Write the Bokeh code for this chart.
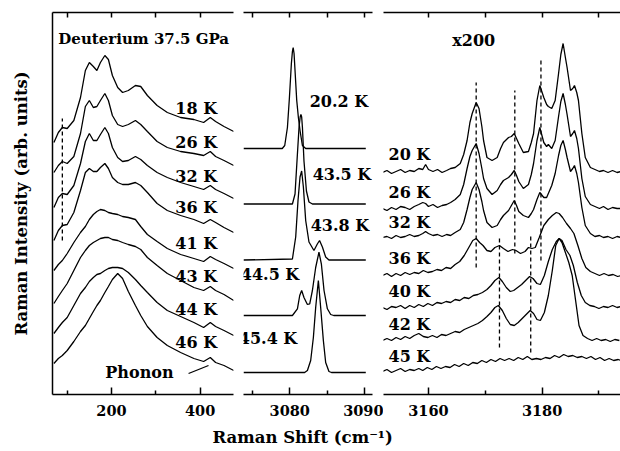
from bokeh.plotting import figure
from bokeh.models import Range1d, LinearAxis, FixedTicker, Label
from bokeh.layouts import row, column
from bokeh.embed import file_html
from bokeh.resources import INLINE

FONT = "DejaVu Serif"

# ---------------- Panel 1 : low-frequency spectra (cm-1, arb. units incl. offset) --------
p1_x = [70, 80, 89, 100, 115, 130, 141, 150, 159, 167, 175, 185, 193, 202, 214, 225, 238,
        254, 266, 281, 303, 326, 356, 386, 408, 423, 435, 454, 476]
p1_18K = [252, 262, 267, 266, 274, 297, 324, 332, 328, 324, 332, 339, 335, 319, 307, 302, 304,
          309, 308, 299, 289, 282, 277, 275, 272, 277, 273, 268, 263]
p1_26K = [222, 229, 233, 231, 238, 261, 288, 294, 287, 288, 294, 301, 294, 279, 270, 268, 270,
          274, 270, 263, 253, 247, 243, 241, 239, 243, 238, 234, 229]
p1_32K = [187, 197, 201, 200, 209, 231, 253, 261, 254, 254, 260, 267, 261, 247, 237, 233, 234,
          238, 235, 229, 222, 217, 212, 208, 205, 209, 205, 201, 196]
p1_36K = [154, 164, 169, 170, 182, 204, 222, 226, 223, 223, 227, 231, 226, 217, 212, 210, 210,
          212, 209, 202, 191, 184, 179, 175, 171, 175, 172, 167, 162]
p1_41K = [124, 130, 134, 141, 152, 162, 168, 175, 180, 183, 185, 184, 182, 181, 180, 178, 177,
          175, 168, 160, 153, 146, 140, 136, 133, 138, 135, 131, 126]
p1_43K = [91, 98, 104, 111, 124, 137, 144, 149, 152, 154, 156, 157, 157, 155, 154, 152, 150,
          148, 145, 137, 129, 121, 114, 107, 104, 108, 104, 100, 94]
p1_44K = [61, 67, 72, 77, 89, 101, 107, 113, 117, 120, 121, 124, 126, 127, 127, 126, 122,
          115, 109, 102, 92, 84, 78, 72, 67, 72, 68, 64, 59]
p1_46K = [31, 36, 39, 44, 53, 63, 69, 76, 83, 89, 94, 102, 108, 115, 121, 116, 103,
          89, 79, 68, 57, 49, 42, 36, 33, 37, 32, 29, 24]
p1_series = [p1_18K, p1_26K, p1_32K, p1_36K, p1_41K, p1_43K, p1_44K, p1_46K]
p1_labels = ["18 K", "26 K", "32 K", "36 K", "41 K", "43 K", "44 K", "46 K"]
p1_label_y = [286, 252, 218, 187, 151, 118, 85, 52]
p1_dash_x = [89, 89]
p1_dash_y = [154, 276]
p1_phonon_x = [374, 419]
p1_phonon_y = [21, 29]

# ---------------- Panel 2 : vibron (cm-1, intensity above baseline) ----------------
p2_202_x = [3073.8, 3079.0, 3079.33, 3079.69, 3079.96, 3080.22, 3080.36, 3080.46, 3080.58, 3080.71,
            3080.94, 3081.16, 3081.38, 3081.7, 3082.14, 3090.2]
p2_202_y = [0, 0, 3, 21, 51, 85, 97, 101, 95, 78, 48, 31, 18, 3, 0, 0]
p2_435_x = [3073.8, 3080.36, 3080.71, 3081.03, 3081.25, 3081.4, 3081.5, 3081.6, 3081.7, 3081.91,
            3082.24, 3082.58, 3083.04, 3090.2]
p2_435_y = [0, 0, 10, 50, 77, 87, 89.5, 87, 77, 43, 13, 2, 0, 0]
p2_438_x = [3073.8, 3080.36, 3080.8, 3081.11, 3081.38, 3081.6, 3081.83, 3082.14, 3082.58, 3083.25,
            3083.7, 3084.0, 3084.38, 3084.82, 3085.26, 3090.2]
p2_438_y = [0, 1, 23, 59.5, 83, 89, 73, 39.5, 18, 9.5, 16, 19.5, 13, 3, 0, 0]
p2_445_x = [3073.8, 3080.36, 3081.03, 3081.34, 3081.6, 3081.91, 3082.37, 3082.68, 3083.04, 3083.48,
            3083.92, 3084.24, 3084.6, 3085.05, 3085.49, 3085.9, 3090.2]
p2_445_y = [0, 0, 6.7, 20, 25, 18, 11, 11.7, 25, 48, 63.3, 51.7, 25, 6.7, 1, 0, 0]
p2_454_x = [3073.8, 3082.0, 3082.37, 3082.81, 3083.17, 3083.48, 3083.84, 3084.15, 3084.51, 3084.82,
            3085.26, 3085.6, 3090.2]
p2_454_y = [0, 0, 2, 12, 35, 65, 92, 65, 32, 10, 1, 0, 0]
p2_series = [(p2_202_x, p2_202_y), (p2_435_x, p2_435_y), (p2_438_x, p2_438_y),
             (p2_445_x, p2_445_y), (p2_454_x, p2_454_y)]
p2_offsets = [246, 190.5, 134.5, 79, 22]
p2_labels = ["20.2 K", "43.5 K", "43.8 K", "44.5 K", "45.4 K"]
p2_label_x = [3082.68, 3083.08, 3082.81, 3073.44, 3073.17]
p2_label_y = [293, 220, 169, 120, 56]

# ---------------- Panel 3 : x200 region (cm-1, intensity above baseline) ----------------
p3_xa = [3151.9, 3152.7, 3153.5, 3154.3, 3155.1, 3155.9, 3156.7, 3157.5, 3158.3, 3159.0,
         3159.5, 3160.0, 3160.8, 3161.6, 3162.4, 3163.2, 3163.9, 3164.7, 3165.6, 3166.2,
         3166.8, 3167.3, 3167.7, 3168.4, 3168.9, 3169.4, 3169.7, 3170.3, 3171.2, 3172.1,
         3172.7, 3173.2, 3174.1, 3174.6, 3175.1, 3175.5, 3175.9, 3176.7, 3177.6, 3178.1,
         3178.5, 3179.1, 3179.6, 3180.3, 3180.8, 3181.1, 3181.7, 3182.3, 3182.9, 3183.3,
         3183.7, 3184.1, 3184.4, 3185.0, 3185.4, 3185.7, 3186.1, 3186.4, 3187.0, 3187.6,
         3188.5, 3189.3, 3190.1, 3190.8, 3191.6, 3192.4, 3193.2, 3193.9]
p3_20K = [0, 2, -1, 1, 3, 0, 2, 1, 4, 3, 8, 3, 1, 3, 0, 2, 4, 5, 9, 18,
          32, 50, 59, 70, 64, 46, 32, 15, 12, 15, 24, 30, 35, 36, 39, 34, 29, 20, 21, 30,
          39, 72, 87, 75, 68, 66, 64, 72, 99, 118, 129, 115, 105, 82, 84, 87, 80, 72, 39, 15,
          5, 3, 1, 2, 0, 2, 0, 1]
p3_26K = [0, -2, 1, -1, 2, 1, -1, 2, 4, 6, 5, 2, 4, 1, 3, 4, 6, 9, 14, 24,
          40, 52, 58, 65, 55, 40, 30, 20, 14, 18, 24, 28, 31, 34, 38, 33, 27, 20, 24, 34,
          45, 68, 81, 66, 62, 64, 60, 68, 92, 107, 115, 104, 94, 72, 75, 78, 70, 60, 30, 12,
          4, 2, 0, 2, -1, 1, 0, 0]
p3_32K = [0, 1, -1, 2, 0, 1, 3, 1, 2, 4, 6, 4, 2, 3, 1, 3, 2, 5, 8, 15,
          28, 40, 48, 55, 48, 36, 27, 15, 10, 12, 18, 22, 27, 32, 37, 32, 26, 22, 20, 24,
          28, 38, 45, 40, 40, 44, 52, 64, 82, 92, 97, 88, 80, 66, 69, 72, 64, 55, 30, 12,
          4, 1, 2, 0, 1, -1, 1, 0]
p3_xb = [3151.9, 3152.7, 3153.5, 3154.3, 3155.1, 3155.9, 3156.7, 3157.5, 3158.3, 3159.1,
         3159.9, 3160.7, 3161.5, 3162.3, 3163.1, 3163.9, 3164.7, 3165.5, 3166.3, 3167.1,
         3167.8, 3168.4, 3169.0, 3169.6, 3170.3, 3171.0, 3171.7, 3172.5, 3173.2, 3174.0,
         3174.8, 3175.4, 3176.2, 3177.0, 3177.6, 3178.2, 3178.8, 3179.5, 3180.3, 3181.1,
         3181.8, 3182.5, 3183.0, 3183.6, 3184.3, 3185.0, 3185.6, 3186.3, 3187.0, 3187.7,
         3188.5, 3189.3, 3190.1, 3190.9, 3191.7, 3192.5, 3193.3, 3193.9]
p3_36K = [0, 2, -1, 2, 0, 3, 1, 3, 2, 5, 3, 4, 6, 5, 8, 7, 11, 14, 20, 28,
          35, 37, 33, 30, 25, 24, 28, 30, 27, 24, 26, 25, 22, 24, 28, 27, 28, 38, 50, 56,
          60, 63, 62, 58, 52, 47, 42, 30, 17, 8, 4, 2, 0, 2, 0, 1, -1, 0]
p3_xc = [3151.9, 3152.7, 3153.5, 3154.3, 3155.1, 3155.9, 3156.7, 3157.5, 3158.3, 3159.1,
         3159.9, 3160.7, 3161.5, 3162.3, 3163.1, 3163.9, 3164.7, 3165.5, 3166.3, 3167.1,
         3167.9, 3168.7, 3169.5, 3170.3, 3171.0, 3171.7, 3172.4, 3173.0, 3173.7, 3174.4,
         3175.0, 3175.7, 3176.4, 3177.1, 3177.8, 3178.4, 3179.1, 3179.7, 3180.4, 3181.1,
         3181.8, 3182.5, 3183.0, 3183.5, 3184.2, 3184.9, 3185.5, 3186.2, 3186.9, 3187.6,
         3188.4, 3189.2, 3190.0, 3190.8, 3191.6, 3192.4, 3193.2, 3193.9]
p3_40K = [0, -2, 1, 0, 2, -1, 2, 0, 3, 1, 4, 2, 5, 4, 6, 5, 8, 7, 10, 9,
          12, 13, 15, 18, 22, 27, 30, 26, 20, 16, 17, 20, 23, 27, 31, 29, 24, 23, 32, 46,
          58, 66, 69, 67, 58, 52, 42, 25, 12, 5, 2, 1, -1, 1, 0, 2, 0, 1]
p3_xd = [3151.9, 3152.7, 3153.5, 3154.3, 3155.1, 3155.9, 3156.7, 3157.5, 3158.3, 3159.1,
         3159.9, 3160.7, 3161.5, 3162.3, 3163.1, 3163.9, 3164.7, 3165.5, 3166.3, 3167.1,
         3167.9, 3168.7, 3169.5, 3170.3, 3171.0, 3171.7, 3172.3, 3173.0, 3173.7, 3174.4,
         3175.1, 3175.8, 3176.5, 3177.2, 3177.9, 3178.5, 3179.1, 3179.7, 3180.4, 3181.1,
         3181.8, 3182.4, 3183.0, 3183.5, 3184.1, 3184.7, 3185.3, 3185.9, 3186.5, 3187.2,
         3188.0, 3188.8, 3189.6, 3190.4, 3191.2, 3192.0, 3192.8, 3193.6]
p3_42K = [0, 2, 0, 3, 1, 4, 2, 5, 7, 4, 3, 5, 3, 6, 5, 7, 9, 8, 11, 13,
          15, 17, 20, 24, 28, 33, 35, 30, 22, 16, 15, 18, 22, 26, 30, 27, 21, 20, 28, 45,
          70, 95, 102, 98, 88, 78, 65, 40, 15, 5, 2, 0, 2, 0, 1, -1, 1, 0]
p3_xe = [3151.9, 3152.7, 3153.5, 3154.3, 3155.1, 3155.9, 3156.7, 3157.5, 3158.3, 3159.0,
         3159.8, 3160.6, 3161.4, 3162.2, 3163.0, 3163.8, 3164.6, 3165.4, 3166.2, 3167.0,
         3167.8, 3168.6, 3169.4, 3170.2, 3171.0, 3171.8, 3172.6, 3173.4, 3174.2, 3175.0,
         3175.8, 3176.6, 3177.4, 3178.2, 3179.0, 3179.8, 3180.6, 3181.4, 3182.2, 3183.0,
         3183.8, 3184.6, 3185.4, 3186.2, 3187.0, 3187.8, 3188.6, 3189.4, 3190.2, 3191.0,
         3191.8, 3192.6, 3193.4, 3193.9]
p3_45K = [0, 2, -1, 1, 3, 0, 2, 1, 3, 1, 4, 2, 5, 3, 5, 4, 7, 5, 8, 6,
          9, 8, 11, 9, 12, 10, 13, 11, 13, 11, 14, 12, 15, 12, 13, 12, 14, 13, 16, 14,
          17, 15, 16, 14, 15, 13, 15, 12, 14, 11, 13, 11, 12, 11]
p3_series = [(p3_xa, p3_20K), (p3_xa, p3_26K), (p3_xa, p3_32K), (p3_xb, p3_36K),
             (p3_xc, p3_40K), (p3_xd, p3_42K), (p3_xe, p3_45K)]
p3_offsets = [222, 186, 157, 119, 87, 54, 23]
p3_labels = ["20 K", "26 K", "32 K", "36 K", "40 K", "42 K", "45 K"]
p3_label_y = [240, 202, 172, 136, 103, 70, 38]
p3_dash_x = [3168.4, 3175.2, 3179.8, 3172.5, 3178.0]
p3_dash_y0 = [127, 141, 134, 47, 42]
p3_dash_y1 = [312, 304, 334, 159, 159]


def style_axis_common(ax):
    ax.axis_line_width = 1.5
    ax.axis_line_color = "black"
    ax.major_tick_line_color = "black"
    ax.minor_tick_line_color = "black"
    ax.major_tick_line_width = 1.5
    ax.minor_tick_line_width = 1.5
    ax.major_tick_out = 0
    ax.minor_tick_out = 0


def make_panel(xr, frame_w, b_left, b_right, ticks, minor, left_axis=False):
    p = figure(x_range=Range1d(*xr), y_range=Range1d(0, 382),
               frame_width=frame_w, frame_height=382,
               min_border_left=b_left, min_border_right=b_right,
               min_border_top=12, min_border_bottom=28,
               x_axis_location="below", y_axis_location="left" if left_axis else None,
               output_backend="svg", toolbar_location=None)
    p.xgrid.visible = False
    p.ygrid.visible = False
    p.outline_line_color = None
    p.background_fill_color = "white"
    p.border_fill_color = "white"
    ax = p.xaxis[0]
    ax.ticker = FixedTicker(ticks=ticks, minor_ticks=minor)
    style_axis_common(ax)
    ax.major_tick_in = 7
    ax.minor_tick_in = 4
    ax.major_label_text_font = FONT
    ax.major_label_text_font_style = "bold"
    ax.major_label_text_color = "black"
    ax.major_label_text_font_size = "14.5px"
    ax.major_label_standoff = 10
    # top frame axis: ticks only (no labels)
    top = LinearAxis(ticker=FixedTicker(ticks=[], minor_ticks=sorted(ticks + minor)))
    style_axis_common(top)
    top.major_tick_in = 0
    top.minor_tick_in = 5
    p.add_layout(top, "above")
    return p


def add_label(p, x, y, text, size="16px"):
    p.add_layout(Label(x=x, y=y, text=text, text_font=FONT, text_font_style="bold",
                       text_font_size=size, text_baseline="middle", text_align="left",
                       text_color="black"))


LW = 1.3

# Panel 1
p1 = make_panel((66.8, 475.4), 181, 52, 5, [200, 400], [100, 300], left_axis=True)
p1.yaxis.ticker = FixedTicker(ticks=[])
p1.yaxis.axis_line_width = 1.5
p1.yaxis.axis_line_color = "black"
p1.yaxis.major_tick_line_color = None
p1.yaxis.minor_tick_line_color = None
p1.yaxis.axis_label = "Raman Intensity (arb. units)"
p1.yaxis.axis_label_text_font = FONT
p1.yaxis.axis_label_text_font_style = "bold"
p1.yaxis.axis_label_text_font_size = "16.5px"
p1.yaxis.axis_label_text_color = "black"
p1.yaxis.axis_label_standoff = 22
for ys, lab, ly in zip(p1_series, p1_labels, p1_label_y):
    p1.line(p1_x, ys, line_color="black", line_width=LW)
    add_label(p1, 344, ly, lab)
p1.line(p1_dash_x, p1_dash_y, line_color="black", line_width=1.3, line_dash="4 3")
p1.line(p1_phonon_x, p1_phonon_y, line_color="black", line_width=1.3)
add_label(p1, 186, 22, "Phonon")
add_label(p1, 80, 356, "Deuterium 37.5 GPa", size="15px")

# Panel 2
p2 = make_panel((3073.8, 3091.1), 129, 5, 11, [3080, 3090], [3075, 3085])
for (xs, ys), off, lab, lx, ly in zip(p2_series, p2_offsets, p2_labels, p2_label_x, p2_label_y):
    p2.line(xs, [off + v for v in ys], line_color="black", line_width=LW)
    add_label(p2, lx, ly, lab)

# Panel 3
p3 = make_panel((3152.09, 3193.8), 237, 0, 0, [3160, 3180], [3170, 3190])
for (xs, ys), off, lab, ly in zip(p3_series, p3_offsets, p3_labels, p3_label_y):
    p3.line(xs, [off + v for v in ys], line_color="black", line_width=LW)
    add_label(p3, 3152.97, ly, lab)
for dx, d0, d1 in zip(p3_dash_x, p3_dash_y0, p3_dash_y1):
    p3.line([dx, dx], [d0, d1], line_color="black", line_width=1.3, line_dash="4 3")
add_label(p3, 3164.2, 354, "x200")

# Shared x-axis title
pl = figure(width=620, height=29, x_range=Range1d(0, 620), y_range=Range1d(0, 29),
            min_border_left=0, min_border_right=0, min_border_top=0, min_border_bottom=0,
            x_axis_location=None, y_axis_location=None,
            output_backend="svg", toolbar_location=None)
pl.xgrid.visible = False
pl.ygrid.visible = False
pl.outline_line_color = None
pl.add_layout(Label(x=212, y=14, text="Raman Shift (cm\u207b\u00b9)", text_font=FONT,
                    text_font_style="bold", text_font_size="16.5px", text_color="black",
                    text_baseline="middle", text_align="left"))

layout = column(row(p1, p2, p3), pl)
open("out.html", "w").write(file_html(layout, INLINE))
